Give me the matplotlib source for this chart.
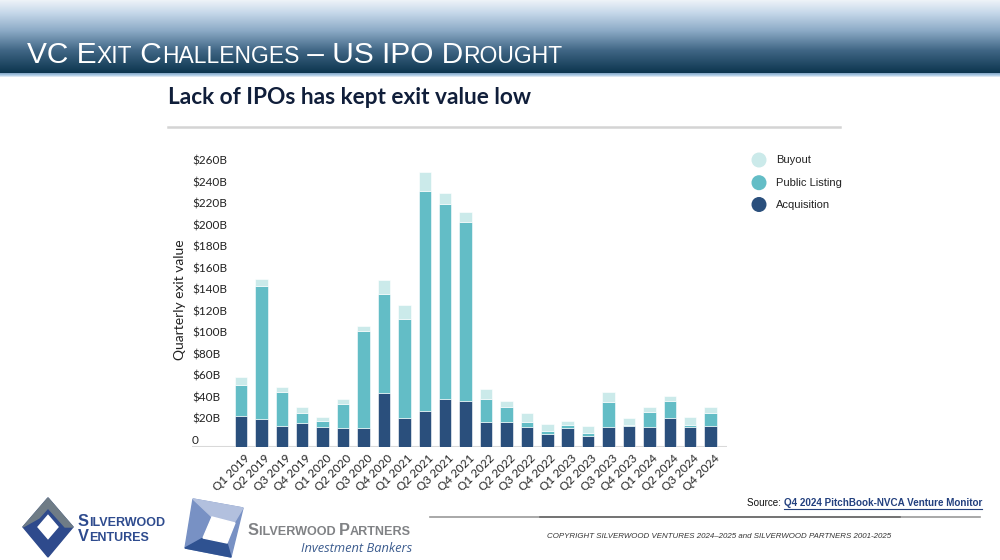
import numpy as np
import matplotlib
matplotlib.use("Agg")
import matplotlib.pyplot as plt
import matplotlib.transforms as mtransforms
from matplotlib.patches import Polygon, Circle

# quarterly exit value by type, $B (stacked segments)
quarters = ["Q1 2019", "Q2 2019", "Q3 2019", "Q4 2019", "Q1 2020", "Q2 2020",
            "Q3 2020", "Q4 2020", "Q1 2021", "Q2 2021", "Q3 2021", "Q4 2021",
            "Q1 2022", "Q2 2022", "Q3 2022", "Q4 2022", "Q1 2023", "Q2 2023",
            "Q3 2023", "Q4 2023", "Q1 2024", "Q2 2024", "Q3 2024", "Q4 2024"]
acquisition = [28.6, 25.5, 19.3, 22.4, 18.3, 17.1, 17.1, 50.3, 26.4, 33.5, 44.1, 42.3,
               23.0, 23.0, 18.0, 11.8, 17.4, 10.2, 18.0, 19.3, 18.0, 27.0, 18.0, 19.0]
public_listing = [28.6, 124.1, 31.6, 9.0, 5.3, 22.9, 90.6, 91.6, 92.5, 204.8, 182.1, 166.6,
                  21.4, 14.2, 5.0, 3.1, 2.5, 2.8, 23.6, 0.6, 14.6, 15.3, 1.9, 12.7]
buyout = [7.4, 6.5, 4.7, 5.3, 4.0, 4.4, 4.7, 13.3, 13.3, 17.1, 9.7, 9.3,
          9.0, 5.1, 8.1, 6.5, 3.7, 6.0, 9.3, 6.5, 4.6, 4.9, 7.7, 5.5]
yticks = list(range(0, 261, 20))
ytick_labels = ["0"] + ["${}B".format(v) for v in yticks[1:]]
series_names = ["Buyout", "Public Listing", "Acquisition"]

C_ACQ = "#2a4f7c"
C_PL = "#63bdc6"
C_BUY = "#cbeaea"

W, H = 1000, 560
fig = plt.figure(figsize=(W / 100, H / 100), dpi=100)
fig.patch.set_facecolor("white")
renderer = fig.canvas.get_renderer()

# background layer in pixel coordinates (y down)
bg = fig.add_axes([0, 0, 1, 1], zorder=0)
bg.set_xlim(0, W)
bg.set_ylim(H, 0)
bg.axis("off")

# header gradient band
stops_y = [0, 12, 30, 50, 72]
stops_c = np.array([[0.93, 0.95, 0.97], [0.78, 0.85, 0.92], [0.55, 0.67, 0.78],
                    [0.25, 0.40, 0.52], [0.05, 0.21, 0.31]])
rows = np.arange(73)
grad = np.stack([np.interp(rows, stops_y, stops_c[:, k]) for k in range(3)], axis=1)
bg.imshow(grad[:, None, :].repeat(2, axis=1), extent=(0, W, 73, 0), aspect="auto",
          interpolation="bilinear", zorder=1)
stripe = np.array([[0.55, 0.68, 0.80], [0.62, 0.75, 0.86], [0.72, 0.82, 0.91], [0.86, 0.91, 0.96]])
bg.imshow(stripe[:, None, :].repeat(2, axis=1), extent=(0, W, 77, 73), aspect="auto",
          interpolation="bilinear", zorder=1)
bg.set_xlim(0, W)
bg.set_ylim(H, 0)


def smallcaps(parts, x, y, **kw):
    for txt, size in parts:
        t = bg.text(x, y, txt, fontsize=size, va="baseline", ha="left", zorder=3, **kw)
        x = t.get_window_extent(renderer).x1
    return x


smallcaps([("VC E", 21.5), ("XIT", 16.5), (" C", 21.5), ("HALLENGES", 16.5),
           (" \u2013 US IPO D", 21.5), ("ROUGHT", 16.5)], 27, 63,
          color="white", family="Liberation Sans")

# subtitle and rule
bg.text(168, 97, "Lack of IPOs has kept exit value low", fontsize=16.3, fontweight="bold",
        family="Lato", color="#101e3a", va="center", ha="left", zorder=3)
bg.plot([168, 840], [127, 127], color="#d4d4d4", lw=1.8, zorder=2)

# chart axes
ax = fig.add_axes([0.192, (H - 446.7) / H, 0.535, 290 / H], zorder=2)
ax.patch.set_alpha(0)
x = np.arange(len(quarters))
acq = np.array(acquisition)
pl = np.array(public_listing)
buy = np.array(buyout)
bw = 0.61
ax.bar(x, acq, bw, color=C_ACQ, edgecolor="white", linewidth=0.4, zorder=3)
ax.bar(x, pl, bw, bottom=acq, color=C_PL, edgecolor="white", linewidth=0.4, zorder=3)
ax.bar(x, buy, bw, bottom=acq + pl, color=C_BUY, edgecolor="white", linewidth=0.4, zorder=3)
ax.axhline(0, color="#d9d9d9", lw=2.2, zorder=2)
ax.set_xlim(-2.4, 23.8)
ax.set_ylim(0, 270)
for s in ax.spines.values():
    s.set_visible(False)
ax.set_yticks([])
ax.set_xticks(x)
ax.set_xticklabels(quarters, rotation=45, ha="right", rotation_mode="anchor",
                   fontsize=8.5, family="Lato", color="#222222")
ax.tick_params(axis="x", length=0, pad=4)
for lab in ax.get_xticklabels():
    lab.set_transform(lab.get_transform() + mtransforms.ScaledTranslation(3 / 100, 0, fig.dpi_scale_trans))

ytrans = ax.get_yaxis_transform() + mtransforms.ScaledTranslation(0, 6 / 100, fig.dpi_scale_trans)
for v, lab in zip(yticks, ytick_labels):
    ax.text(0, v, lab, transform=ytrans, ha="left", va="center", fontsize=8.5,
            family="Lato", color="#222222")
bg.text(180, 300, "Quarterly exit value", rotation=90, fontsize=10, family="Lato",
        color="#222222", ha="center", va="center", zorder=3)

# legend
for (name, col), yy in zip(zip(series_names, [C_BUY, C_PL, C_ACQ]), [160, 182.7, 204.5]):
    bg.add_patch(Circle((759, yy), 6.8, color=col, zorder=3))
    bg.text(776, yy, name, fontsize=8, family="Liberation Sans", color="#222222",
            va="center", ha="left", zorder=3)

# source line
t = bg.text(747, 503, "Source: ", fontsize=7.1, family="Liberation Sans", color="#111111",
            va="center", ha="left", zorder=3)
x0 = t.get_window_extent(renderer).x1
t2 = bg.text(x0, 503, "Q4 2024 PitchBook-NVCA Venture Monitor", fontsize=7.1, fontweight="bold",
             family="Liberation Sans", color="#23407e", va="center", ha="left", zorder=3)
x1 = t2.get_window_extent(renderer).x1
bg.plot([x0, x1], [508.5, 508.5], color="#23407e", lw=0.8, zorder=3)
bg.plot([430, 980], [517, 517], color="#9a9a9a", lw=1.2, zorder=2)
bg.plot([540, 900], [517, 517], color="#6b6b6b", lw=1.2, zorder=2)
bg.text(719, 537, "COPYRIGHT SILVERWOOD VENTURES 2024\u20132025 and SILVERWOOD PARTNERS 2001-2025",
        fontsize=5.7, style="italic", family="Liberation Sans", color="#333333",
        ha="center", va="center", zorder=3)

# Silverwood Ventures logo
cx, cy = 48, 527
outer = [(cx, cy - 29), (cx + 25, cy), (cx, cy + 30), (cx - 25, cy)]
bg.add_patch(Polygon(outer, closed=True, color="#2e4a8c", zorder=3))
gray = [(cx - 25, cy), (cx, cy - 29), (cx + 25, cy), (cx + 17, cy), (cx, cy - 19), (cx - 9, cy - 9)]
bg.add_patch(Polygon(gray, closed=True, color="#6f7c86", zorder=4))
inner = [(cx, cy - 14), (cx + 12, cy), (cx, cy + 14), (cx - 12, cy)]
bg.add_patch(Polygon(inner, closed=True, facecolor="white", edgecolor="#2e4a8c", lw=1.2, zorder=5))
smallcaps([("S", 11.8), ("ILVERWOOD", 9.0)], 78, 526, color="#2e4b8e", fontweight="bold",
          family="Liberation Sans")
smallcaps([("V", 11.8), ("ENTURES", 9.0)], 78, 541, color="#2e4b8e", fontweight="bold",
          family="Liberation Sans")

# Silverwood Partners logo
sq = [(193, 499), (243, 508), (231, 557), (185, 548)]
bg.add_patch(Polygon(sq, closed=True, color="#7891c4", zorder=3))
bg.add_patch(Polygon([(193, 499), (243, 508), (234, 523), (212, 517)], closed=True,
                     color="#b2c0de", zorder=4))
bg.add_patch(Polygon([(185, 548), (231, 557), (227, 543), (203, 538)], closed=True,
                     color="#2f5291", zorder=4))
bg.add_patch(Polygon([(212, 517), (235, 523), (227, 543), (203, 538)], closed=True,
                     color="white", zorder=5))
smallcaps([("S", 11.8), ("ILVERWOOD ", 9.1), ("P", 11.8), ("ARTNERS", 9.1)], 248, 535,
          color="#808285", fontweight="bold", family="Liberation Sans")
bg.text(412, 548, "Investment Bankers", fontsize=9.3, style="italic", family="Open Sans",
        color="#3d5d8f", ha="right", va="center", zorder=3)

fig.savefig("out.png", dpi=100, facecolor="white")
